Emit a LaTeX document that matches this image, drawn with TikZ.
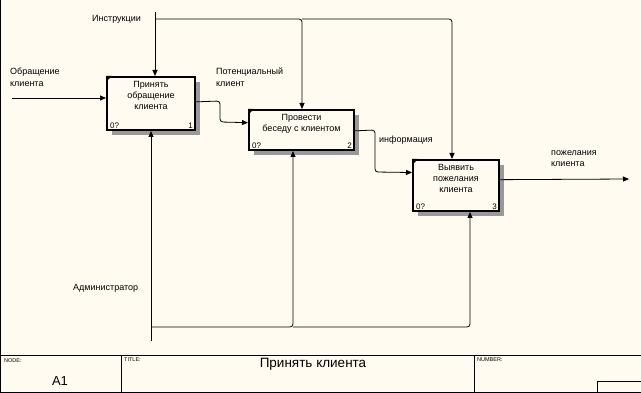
\documentclass[tikz,border=0pt]{standalone}
\usepackage{fontspec}
\setmainfont{Liberation Sans}
\usetikzlibrary{arrows.meta,patterns,calc}
\definecolor{bg}{HTML}{FFFBF0}
\begin{document}
\begin{tikzpicture}[x=1pt,y=-1pt,
  box/.style={draw, line width=2pt, anchor=north west, inner sep=0pt, fill=bg},
  boxtext/.style={anchor=north, align=center, font=\fontsize{9}{11}\selectfont, inner sep=0pt},
  corner/.style={font=\fontsize{8}{9}\selectfont, inner sep=0pt},
  lbl/.style={anchor=north west, align=left, font=\fontsize{9}{11.5}\selectfont, inner sep=0pt},
  arr/.style={line width=0.8pt, -{Triangle[length=6pt,width=5pt]}},
  ln/.style={line width=0.8pt},
  shadow/.style={fill=black!40},
  tiny/.style={font=\fontsize{5.5}{6}\selectfont, anchor=north west, inner sep=0pt}
]
\fill[bg] (0,0) rectangle (641,393);
\useasboundingbox (0,0) rectangle (641,393);

% shadows
\fill[shadow] (194,82) rectangle (200,135);
\fill[shadow] (112,129) rectangle (200,135);
\fill[shadow] (353,115) rectangle (359,155);
\fill[shadow] (254,149) rectangle (359,155);
\fill[shadow] (498,165) rectangle (504,216);
\fill[shadow] (418,210) rectangle (504,216);

% boxes
\node[box, minimum width=88pt, minimum height=53pt] (b1) at (106,76) {};
\node[box, minimum width=105pt, minimum height=40pt] (b2) at (248,109) {};
\node[box, minimum width=86pt, minimum height=51pt] (b3) at (412,159) {};

\foreach \b in {b1,b2,b3}{
  \fill (\b.north west) -- ++(6,0) -- ++(-6,6) -- cycle;
}

\node[boxtext] (t1) at ($(b1.north)+(0,5)$) {Принять\\обращение\\клиента};
\node[boxtext] (t2) at ($(b2.north)+(0,5)$) {Провести\\беседу с клиентом};
\node[boxtext] (t3) at ($(b3.north)+(0,5)$) {Выявить\\пожелания\\клиента};

\node[corner, anchor=south west] (z1) at ($(b1.south west)+(4,-2)$) {0?};
\node[corner, anchor=south east] (n1) at ($(b1.south east)+(-3,-2)$) {1};
\node[corner, anchor=south west] (z2) at ($(b2.south west)+(4,-2)$) {0?};
\node[corner, anchor=south east] (n2) at ($(b2.south east)+(-3,-2)$) {2};
\node[corner, anchor=south west] (z3) at ($(b3.south west)+(4,-2)$) {0?};
\node[corner, anchor=south east] (n3) at ($(b3.south east)+(-3,-2)$) {3};

% input
\coordinate (in1) at (12,98);
\draw[arr] (in1) -- (in1 -| b1.west);

% controls
\coordinate (c0) at (155,12);
\coordinate (cj) at (155,19);
\coordinate (c2) at (302,19);
\coordinate (c3) at (452,19);
\draw[arr] (c0) -- (c0 |- b1.north);
\draw[arr, rounded corners=3pt] (cj) -- (c2) -- (c2 |- b2.north);
\draw[arr, rounded corners=3pt] (c2) -- (c3) -- (c3 |- b3.north);

% outputs
\coordinate (o1) at ($(b1.north east)!0.47!(b1.south east)$);
\coordinate (i2) at ($(b2.north west)!0.325!(b2.south west)$);
\draw[arr, rounded corners=3pt] (o1) -- (220,101) -- (220,122) -- (i2);
\coordinate (o2) at ($(b2.north east)!0.52!(b2.south east)$);
\coordinate (i3) at ($(b3.north west)!0.255!(b3.south west)$);
\draw[arr, rounded corners=3pt] (o2) -- (375,130) -- (375,172) -- (i3);
\coordinate (o3) at ($(b3.north east)!0.39!(b3.south east)$);
\coordinate (out3) at (629,179);
\draw[arr] (o3) -- (out3);

% mechanisms
\coordinate (m0) at (151,341);
\coordinate (mj) at (151,327);
\coordinate (m2) at (293,327);
\coordinate (m3) at (470,327);
\draw[arr] (m0) -- (m0 |- b1.south);
\draw[arr, rounded corners=3pt] (mj) -- (m2) -- (m2 |- b2.south);
\draw[arr, rounded corners=3pt] (m2) -- (m3) -- (m3 |- b3.south);

% labels
\node[lbl] (l1) at (10,68) {Обращение\\клиента};
\node[lbl] (l2) at (92,15) {Инструкции};
\node[lbl] (l3) at (216,68) {Потенциальный\\клиент};
\node[lbl] (l4) at (379,136) {информация};
\node[lbl] (l5) at (551,150) {пожелания\\клиента};
\node[lbl] (l6) at (73,284) {Администратор};

% frame and title block
\draw[ln] (0.5,0) -- (0.5,392.5) -- (641,392.5);
\draw[ln] (0,355.5) -- (641,355.5);
\draw[ln] (121,355.5) -- (121,392.5);
\draw[ln] (474,355.5) -- (474,392.5);
\draw[ln] (597.5,392.5) -- (597.5,381.5) -- (641,381.5);
\node[tiny] (nd) at (4,358) {NODE:};
\node[tiny] (tt) at (124,358) {TITLE:};
\node[tiny] (nb) at (477,358) {NUMBER:};
\node[font=\fontsize{13}{15}\selectfont, inner sep=0pt] (a1) at (60,381) {A1};
\node[font=\fontsize{13.5}{15}\selectfont, inner sep=0pt] (ttl) at (313,364) {Принять клиента};
\end{tikzpicture}
\end{document}
